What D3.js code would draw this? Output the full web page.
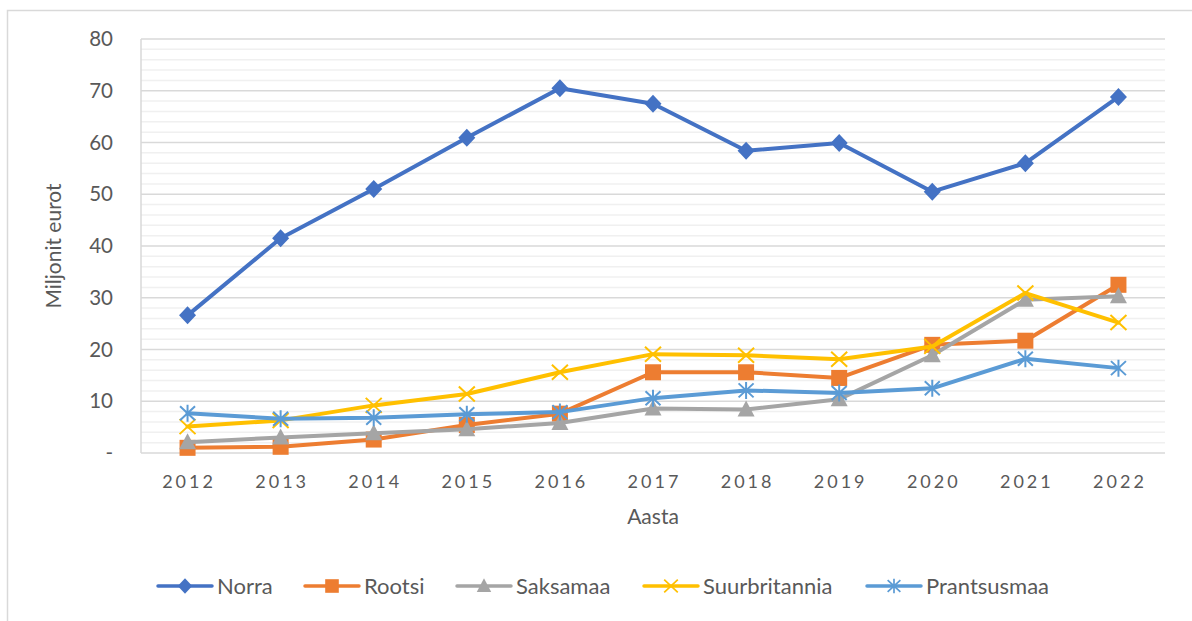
<!DOCTYPE html>
<html lang="et">
<head>
<meta charset="utf-8">
<title>Miljonit eurot</title>
<script src="https://d3js.org/d3.v7.min.js"></script>
<style>
  body { margin: 0; background: #fff; }
  text { font-family: Lato, "Noto Sans", sans-serif; fill: #595959; }
</style>
</head>
<body>
<script>
// data
var years = ["2012","2013","2014","2015","2016","2017","2018","2019","2020","2021","2022"];
var norra = [26.6, 41.5, 51.0, 60.9, 70.5, 67.5, 58.4, 59.9, 50.5, 56.0, 68.8];
var rootsi = [1.0, 1.2, 2.6, 5.4, 7.6, 15.6, 15.6, 14.5, 20.9, 21.7, 32.5];
var saksamaa = [2.1, 3.0, 3.8, 4.6, 5.8, 8.6, 8.4, 10.4, 18.9, 29.6, 30.3];
var suurbritannia = [5.1, 6.3, 9.2, 11.4, 15.6, 19.1, 18.9, 18.1, 20.6, 30.9, 25.2];
var prantsusmaa = [7.7, 6.6, 6.8, 7.5, 7.9, 10.6, 12.1, 11.6, 12.5, 18.2, 16.4];
var yTicks = [0, 10, 20, 30, 40, 50, 60, 70, 80];

var series = [
  {name: "Norra", values: norra, color: "#4472C4", marker: "diamond"},
  {name: "Rootsi", values: rootsi, color: "#ED7D31", marker: "square"},
  {name: "Saksamaa", values: saksamaa, color: "#A5A5A5", marker: "triangle"},
  {name: "Suurbritannia", values: suurbritannia, color: "#FFC000", marker: "x"},
  {name: "Prantsusmaa", values: prantsusmaa, color: "#5B9BD5", marker: "star"}
];

var width = 1192, height = 621;
var plot = {left: 141, right: 1165, top: 39, bottom: 453};

var svg = d3.select("body").append("svg")
  .attr("width", width)
  .attr("height", height);

// chart border (only top and left are in view)
svg.append("rect")
  .attr("x", 7.5).attr("y", 10.5)
  .attr("width", 1200).attr("height", 700)
  .attr("fill", "none")
  .attr("stroke", "#d9d9d9")
  .attr("stroke-width", 1.5);

var x = d3.scaleBand().domain(years).range([plot.left, plot.right]);
var y = d3.scaleLinear().domain([0, 80]).range([plot.bottom, plot.top]);

// minor gridlines
svg.append("g").selectAll("line")
  .data(d3.range(2, 80, 2).filter(d => d % 10 != 0))
  .enter().append("line")
  .attr("x1", plot.left).attr("x2", plot.right)
  .attr("y1", d => y(d)).attr("y2", d => y(d))
  .attr("stroke", "#f0f0f0").attr("stroke-width", 1.5);

// major gridlines
svg.append("g").selectAll("line")
  .data(yTicks)
  .enter().append("line")
  .attr("x1", plot.left).attr("x2", plot.right)
  .attr("y1", d => y(d)).attr("y2", d => y(d))
  .attr("stroke", "#d9d9d9").attr("stroke-width", 1.5);

// value axis line
svg.append("line")
  .attr("x1", plot.left).attr("x2", plot.left)
  .attr("y1", plot.top).attr("y2", plot.bottom)
  .attr("stroke", "#d9d9d9").attr("stroke-width", 1.5);

// y tick labels
svg.append("g").selectAll("text")
  .data(yTicks)
  .enter().append("text")
  .attr("x", 113)
  .attr("y", d => y(d))
  .attr("dy", "0.35em")
  .attr("text-anchor", "end")
  .style("font-size", "20.5px")
  .text(d => d == 0 ? "-" : d);

// x tick labels
svg.append("g").selectAll("text")
  .data(years)
  .enter().append("text")
  .attr("x", d => x(d) + x.bandwidth() / 2 + 1.5)
  .attr("y", 488)
  .attr("text-anchor", "middle")
  .style("font-size", "18px")
  .style("letter-spacing", "3px")
  .text(d => d);

// axis titles
svg.append("text")
  .attr("x", 653).attr("y", 524)
  .attr("text-anchor", "middle")
  .style("font-size", "21px")
  .text("Aasta");

svg.append("text")
  .attr("transform", "translate(61,246) rotate(-90)")
  .attr("text-anchor", "middle")
  .style("font-size", "21px")
  .text("Miljonit eurot");

function drawMarker(g, type, color, k) {
  if (type == "diamond") {
    g.append("path").attr("d", "M0,-9L8.5,0L0,9L-8.5,0Z").attr("fill", color);
  } else if (type == "square") {
    g.append("rect").attr("x", -8).attr("y", -8).attr("width", 16).attr("height", 16).attr("fill", color);
  } else if (type == "triangle") {
    g.append("path").attr("d", "M0,-9L8.5,7L-8.5,7Z").attr("fill", color);
  } else if (type == "x") {
    g.append("path").attr("d", "M-8,-7.5L8,7.5M8,-7.5L-8,7.5").attr("stroke", color).attr("stroke-width", 2).attr("fill", "none");
  } else if (type == "star") {
    g.append("path").attr("d", "M-7.5,-7L7.5,7M7.5,-7L-7.5,7M0,-8.5L0,8.5").attr("stroke", color).attr("stroke-width", 2).attr("fill", "none");
  }
  g.attr("transform", g.attr("transform") + " scale(" + k + ")");
}

var line = d3.line()
  .x((d, i) => x(years[i]) + x.bandwidth() / 2)
  .y(d => y(d));

series.forEach(function(s) {
  var g = svg.append("g");
  g.append("path")
    .attr("d", line(s.values))
    .attr("fill", "none")
    .attr("stroke", s.color)
    .attr("stroke-width", 4)
    .attr("stroke-linejoin", "round")
    .attr("stroke-linecap", "round");
  s.values.forEach(function(v, i) {
    var m = g.append("g")
      .attr("transform", "translate(" + (x(years[i]) + x.bandwidth() / 2) + "," + y(v) + ")");
    drawMarker(m, s.marker, s.color, 1);
  });
});

// legend
var legendX = [158, 305, 457, 644, 867];
var legendY = 586;
series.forEach(function(s, i) {
  var g = svg.append("g").attr("transform", "translate(" + legendX[i] + "," + legendY + ")");
  g.append("line")
    .attr("x1", 0).attr("x2", 54)
    .attr("stroke", s.color)
    .attr("stroke-width", 3.5)
    .attr("stroke-linecap", "round");
  var m = g.append("g").attr("transform", "translate(27,0)");
  drawMarker(m, s.marker, s.color, 0.85);
  g.append("text")
    .attr("x", 59).attr("y", 0)
    .attr("dy", "0.35em")
    .style("font-size", "22px")
    .text(s.name);
});
</script>
</body>
</html>
